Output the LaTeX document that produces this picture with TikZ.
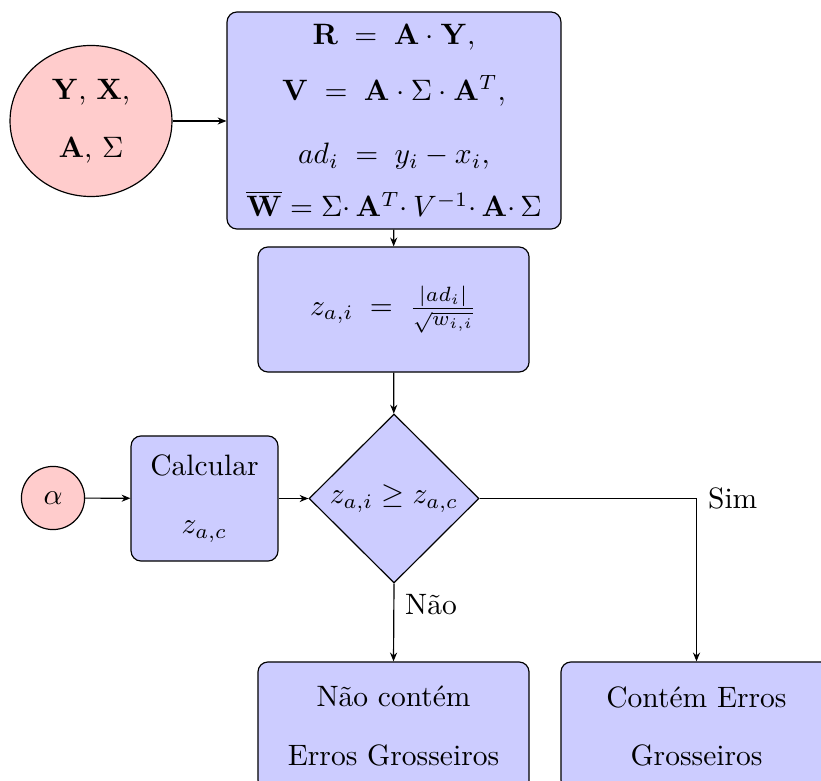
\documentclass[tikz,border=0pt]{standalone}
\usetikzlibrary{shapes.geometric,arrows.meta}
\tikzset{
  box/.style={draw, fill=blue!20, rounded corners=3.4pt, align=center, inner sep=0pt},
  startnode/.style={draw, fill=red!20, align=center, inner sep=0pt},
  decision/.style={draw, fill=blue!20, diamond, aspect=1, inner sep=0pt},
  arr/.style={-{Stealth[length=3pt,width=2.4pt]}},
  lbl/.style={anchor=west},
}
\begin{document}
\begin{tikzpicture}[x=0.339pt,y=-0.339pt, font=\fontsize{10}{19.7}\selectfont, line width=0.4pt]
\clip (0,0) rectangle (821,781);
\node[startnode, ellipse, minimum width=54.9pt, minimum height=51.2pt] (in) at (91,121)
  {$\mathbf{Y}$, $\mathbf{X}$,\\ $\mathbf{A}$, $\Sigma$};
\node[box, minimum width=113.2pt, minimum height=73.6pt] (top) at (394,120.5)
  {$\mathbf{R} \;=\; \mathbf{A}\cdot\mathbf{Y},$\\[-0.7pt]
   $\mathbf{V} \;=\; \mathbf{A}\cdot\Sigma\cdot\mathbf{A}^T,$\\[1.7pt]
   $ad_i \;=\; y_i - x_i,$\\[-1.7pt]
   $\overline{\mathbf{W}} = \Sigma{\cdot}\,\mathbf{A}^T{\cdot}\,V^{-1}{\cdot}\,\mathbf{A}{\cdot}\,\Sigma$};
\node[box, minimum width=91.9pt, minimum height=42.4pt] (zbox) at (393.5,309.5)
  {$z_{a,i} \;=\; \frac{|ad_i|}{\sqrt{w_{i,i}}}$};
\node[decision, minimum width=57.6pt, minimum height=57.3pt] (dec) at (394,498.5)
  {$z_{a,i} \geq z_{a,c}$};
\node[box, minimum width=49.8pt, minimum height=42.4pt] (calc) at (204.5,498.5)
  {Calcular\\ $z_{a,c}$};
\node[startnode, circle, minimum size=21.4pt] (alpha) at (53,498) {$\alpha$};
\node[box, minimum width=91.9pt, minimum height=43.4pt] (nao) at (393.5,726)
  {Não contém\\ Erros Grosseiros};
\node[box, minimum width=91.9pt, minimum height=43.4pt] (cont) at (696.5,726)
  {Contém Erros\\ Grosseiros};
\draw[arr] (in.east) -- (in.east -| top.west);
\draw[arr] (top) -- (zbox);
\draw[arr] (zbox) -- (dec);
\draw[arr] (alpha) -- (calc);
\draw[arr] (calc) -- (dec);
\draw[arr] (dec.south) -- node[lbl, pos=0.266, xshift=0.3pt] {Não} (nao.north);
\draw[arr] (dec.east) -| node[lbl, pos=0.5, xshift=0.4pt] {Sim} (cont.north);
\end{tikzpicture}
\end{document}
